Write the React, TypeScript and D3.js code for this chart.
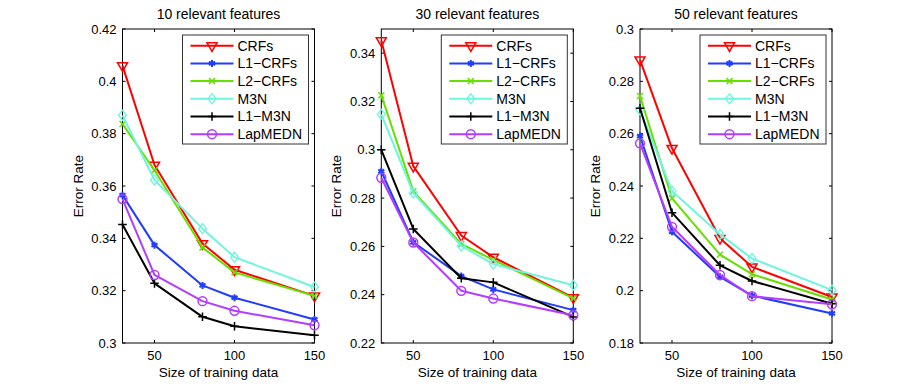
import * as d3 from 'd3'

const trainSizes = [30, 50, 80, 100, 150]
const xTicks = [50, 100, 150]
const methods = ['CRFs', 'L1\u2212CRFs', 'L2\u2212CRFs', 'M3N', 'L1\u2212M3N', 'LapMEDN']
const titles = ['10 relevant features', '30 relevant features', '50 relevant features']

// error rates per panel, one row per method (same order as methods)
const panel10 = [
  [0.406, 0.368, 0.338, 0.328, 0.318],
  [0.3565, 0.3374, 0.322, 0.3173, 0.309],
  [0.3837, 0.366, 0.3365, 0.327, 0.318],
  [0.387, 0.3623, 0.3437, 0.3328, 0.3214],
  [0.3453, 0.3228, 0.31, 0.3064, 0.303],
  [0.355, 0.326, 0.316, 0.3123, 0.3068],
]
const panel30 = [
  [0.3452, 0.2932, 0.2645, 0.2555, 0.2388],
  [0.2911, 0.2617, 0.2477, 0.2422, 0.2336],
  [0.3226, 0.2828, 0.261, 0.2544, 0.2385],
  [0.3147, 0.2821, 0.2602, 0.2527, 0.2439],
  [0.3, 0.2672, 0.2468, 0.2451, 0.2308],
  [0.2884, 0.2616, 0.2416, 0.2384, 0.2315],
]
const panel50 = [
  [0.2882, 0.2544, 0.22, 0.2091, 0.1976],
  [0.2591, 0.2225, 0.2053, 0.1981, 0.1913],
  [0.2744, 0.2353, 0.2138, 0.2063, 0.1966],
  [0.2691, 0.2381, 0.2215, 0.2123, 0.2002],
  [0.2697, 0.2298, 0.2097, 0.2037, 0.195],
  [0.2563, 0.2244, 0.206, 0.1979, 0.1948],
]
const yDomains = [
  [0.3, 0.42],
  [0.22, 0.35],
  [0.18, 0.3],
]
const yTicks10 = [0.3, 0.32, 0.34, 0.36, 0.38, 0.4, 0.42]
const yTicks30 = [0.22, 0.24, 0.26, 0.28, 0.3, 0.32, 0.34]
const yTicks50 = [0.18, 0.2, 0.22, 0.24, 0.26, 0.28, 0.3]

const colors = ['#ff0000', '#1f3cff', '#66e000', '#6ff5de', '#000000', '#b33cff']

const W = 919
const H = 386
const panelLefts = [122.5, 381.3, 640]
const plotW = 192
const top = 29
const bottom = 343
const font = 'Liberation Sans, Arial, Helvetica, sans-serif'

function markerPath(i: number) {
  const sym = d3.symbol()
  if (i === 0) return sym.type(d3.symbolTriangle2).size(72)()
  if (i === 1) return sym.type(d3.symbolAsterisk).size(34)()
  if (i === 2) return sym.type(d3.symbolTimes).size(25)()
  if (i === 3) return sym.type(d3.symbolDiamond2).size(64)()
  if (i === 4) return sym.type(d3.symbolPlus).size(26)()
  return sym.type(d3.symbolCircle).size(62)()
}

function markerTransform(i: number, x: number, y: number) {
  if (i === 0) return `translate(${x},${y}) rotate(180)`
  if (i === 3) return `translate(${x},${y}) scale(0.8,1)`
  return `translate(${x},${y})`
}

function Panel({ idx, data, yTicks }: { idx: number; data: number[][]; yTicks: number[] }) {
  const left = panelLefts[idx]
  const x = d3.scaleLinear().domain([30, 150]).range([left, left + plotW])
  const y = d3.scaleLinear().domain(yDomains[idx]).range([bottom, top])
  const line = d3
    .line<number>()
    .x((_, j) => x(trainSizes[j]))
    .y((v) => y(v))
  const right = left + plotW
  const legX = right - 132
  const legY = top + 6
  const fmt = (v: number) => String(+v.toFixed(2))

  return (
    <g>
      <text x={left + plotW / 2} y={19} textAnchor="middle" fontSize={14} fontFamily={font}>
        {titles[idx]}
      </text>
      <rect x={left} y={top} width={plotW} height={bottom - top} fill="white" stroke="#000" strokeWidth={1} />
      {xTicks.map((t) => (
        <g key={'x' + t}>
          <line x1={x(t)} x2={x(t)} y1={bottom} y2={bottom - 3} stroke="#000" />
          <line x1={x(t)} x2={x(t)} y1={top} y2={top + 3} stroke="#000" />
          <text x={x(t)} y={360} textAnchor="middle" fontSize={13} fontFamily={font}>
            {t}
          </text>
        </g>
      ))}
      {yTicks.map((t) => (
        <g key={'y' + t}>
          <line x1={left} x2={left + 3} y1={y(t)} y2={y(t)} stroke="#000" />
          <line x1={right} x2={right - 3} y1={y(t)} y2={y(t)} stroke="#000" />
          <text x={left - 6} y={y(t)} dy="0.35em" textAnchor="end" fontSize={13} fontFamily={font}>
            {fmt(t)}
          </text>
        </g>
      ))}
      <text x={left + plotW / 2} y={377} textAnchor="middle" fontSize={13.5} fontFamily={font}>
        Size of training data
      </text>
      <text
        transform={`translate(${left - 40},${(top + bottom) / 2}) rotate(-90)`}
        textAnchor="middle"
        fontSize={13.5}
        fontFamily={font}
      >
        Error Rate
      </text>
      {data.map((series, i) => (
        <g key={'s' + i}>
          <path d={line(series) || ''} fill="none" stroke={colors[i]} strokeWidth={2} strokeLinejoin="round" />
          {series.map((v, j) => (
            <path
              key={j}
              d={markerPath(i) || ''}
              transform={markerTransform(i, x(trainSizes[j]), y(v))}
              fill="none"
              stroke={colors[i]}
              strokeWidth={i === 1 ? 2 : 1.5}
            />
          ))}
        </g>
      ))}
      <rect x={legX} y={legY} width={126} height={109} fill="white" stroke="#333" strokeWidth={1} />
      {methods.map((m, i) => {
        const ry = legY + 10.7 + i * 17.7
        return (
          <g key={'l' + i}>
            <line x1={legX + 8} x2={legX + 51} y1={ry} y2={ry} stroke={colors[i]} strokeWidth={2} />
            <path
              d={markerPath(i) || ''}
              transform={markerTransform(i, legX + 29.5, ry)}
              fill="none"
              stroke={colors[i]}
              strokeWidth={i === 1 ? 2 : 1.5}
            />
            <text x={legX + 55} y={ry} dy="0.35em" fontSize={14} fontFamily={font}>
              {m}
            </text>
          </g>
        )
      })}
    </g>
  )
}

export default function App() {
  const panels = [panel10, panel30, panel50]
  const ticks = [yTicks10, yTicks30, yTicks50]
  return (
    <svg
      width={W}
      height={H}
      viewBox={`0 0 ${W} ${H}`}
      style={{ position: 'absolute', left: 0, top: 0, background: 'white' }}
    >
      <rect width={W} height={H} fill="white" />
      {panels.map((d, i) => (
        <Panel key={i} idx={i} data={d} yTicks={ticks[i]} />
      ))}
    </svg>
  )
}
